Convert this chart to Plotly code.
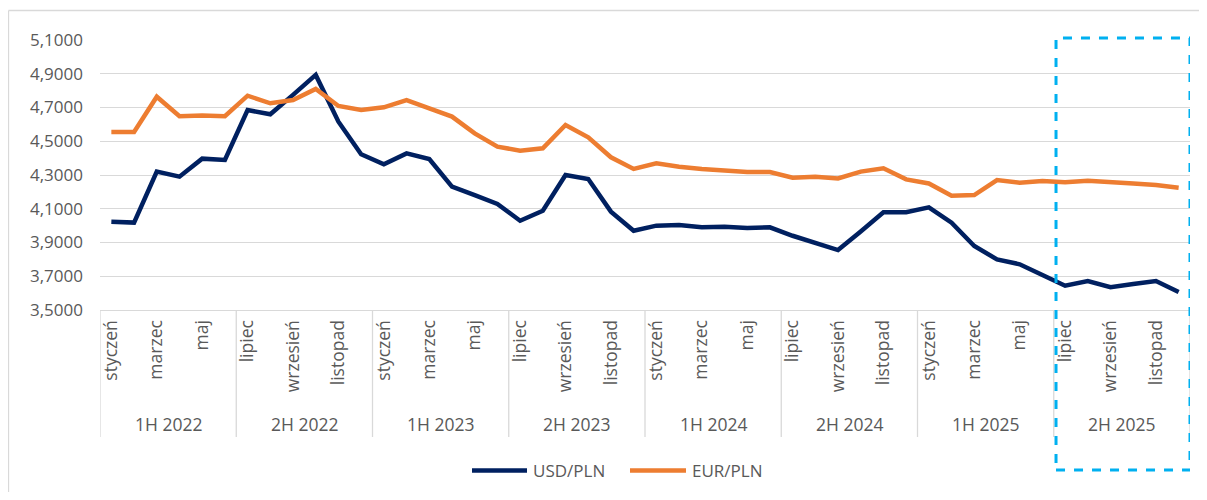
import plotly.graph_objects as go

months = ["styczeń", "luty", "marzec", "kwiecień", "maj", "czerwiec",
          "lipiec", "sierpień", "wrzesień", "październik", "listopad", "grudzień"]
years = [2022, 2023, 2024, 2025]
groups = ["1H 2022", "2H 2022", "1H 2023", "2H 2023",
          "1H 2024", "2H 2024", "1H 2025", "2H 2025"]

usd_pln = [4.023, 4.018, 4.320, 4.290, 4.397, 4.389, 4.685, 4.660, 4.775, 4.893, 4.616, 4.423,
           4.363, 4.428, 4.395, 4.231, 4.181, 4.128, 4.029, 4.088, 4.300, 4.276, 4.083, 3.970,
           4.000, 4.004, 3.990, 3.994, 3.986, 3.990, 3.940, 3.900, 3.855, 3.965, 4.079, 4.080,
           4.108, 4.017, 3.879, 3.800, 3.771, 3.707, 3.644, 3.672, 3.635, 3.654, 3.672, 3.607]
eur_pln = [4.555, 4.555, 4.764, 4.648, 4.652, 4.648, 4.770, 4.725, 4.744, 4.810, 4.709, 4.685,
           4.701, 4.744, 4.695, 4.646, 4.547, 4.468, 4.444, 4.458, 4.596, 4.523, 4.405, 4.336,
           4.369, 4.349, 4.336, 4.326, 4.318, 4.318, 4.284, 4.290, 4.280, 4.320, 4.340, 4.274,
           4.250, 4.177, 4.181, 4.270, 4.254, 4.264, 4.257, 4.266, 4.260, 4.250, 4.241, 4.225]
series_names = ["USD/PLN", "EUR/PLN"]
series_colors = ["#002060", "#ED7D31"]

categories = [f"{m} {y}" for y in years for m in months]
tick_vals = categories[::2]
tick_text = [c.split(" ")[0] for c in tick_vals]

FONT = "Open Sans, Segoe UI, sans-serif"
GREY = "#595959"
GRID = "#d9d9d9"

fig = go.Figure()
for name, vals, col in zip(series_names, [usd_pln, eur_pln], series_colors):
    fig.add_trace(go.Scatter(x=categories, y=vals, mode="lines", name=name,
                             line=dict(color=col, width=4.5), showlegend=False))

# page body adds an 8px margin on every side; work in screenshot pixels
OFF = 8
W, H = 1207 - 2 * OFF, 500 - 2 * OFF
ML, MT = 100 - OFF, 40 - OFF
MR = (1207 - OFF) - 1190
MB = (500 - OFF) - 310
pw = W - ML - MR
ph = H - MT - MB


def py(pix):
    return (310 - pix) / ph


def px(pix):
    return (pix - 100) / pw


shapes = []
n_half = len(groups)
for k in range(n_half + 1):
    xv = k * 6 - 0.5
    shapes.append(dict(type="line", xref="x", yref="paper", x0=xv, x1=xv,
                       y0=0, y1=py(437), line=dict(color=GRID, width=1.3)))
# outer frame (left and top edges visible in the crop)
shapes.append(dict(type="line", xref="paper", yref="paper", x0=px(8.5), x1=px(8.5),
                   y0=py(495), y1=py(10.5), line=dict(color=GRID, width=1.3), layer="below"))
shapes.append(dict(type="line", xref="paper", yref="paper", x0=px(8.5), x1=px(1200),
                   y0=py(10.5), y1=py(10.5), line=dict(color=GRID, width=1.3), layer="below"))
# highlighted last half-year
shapes.append(dict(type="rect", xref="x", yref="paper", x0=41.6, x1=47.5,
                   y0=py(470), y1=py(38), line=dict(color="#00B0F0", width=3, dash="dash")))

annotations = []
for k, g in enumerate(groups):
    annotations.append(dict(x=k * 6 + 2.5, xref="x", y=py(424), yref="paper",
                            text=g, showarrow=False, xanchor="center", yanchor="middle",
                            font=dict(family=FONT, size=17.5, color=GREY)))

leg = [(472, 527, 531), (630, 686, 690)]
for (a, b, t), name, col in zip(leg, series_names, series_colors):
    shapes.append(dict(type="line", xref="paper", yref="paper", x0=px(a), x1=px(b),
                       y0=py(470.5), y1=py(470.5), line=dict(color=col, width=4.5)))
    annotations.append(dict(x=px(t), xref="paper", y=py(470.5), yref="paper",
                            text=name, showarrow=False, xanchor="left", yanchor="middle",
                            font=dict(family=FONT, size=17, color=GREY)))

fig.update_layout(
    width=W, height=H,
    margin=dict(l=ML, r=MR, t=MT, b=MB),
    paper_bgcolor="white", plot_bgcolor="white",
    separators=", ",
    font=dict(family=FONT, size=17, color=GREY),
    shapes=shapes, annotations=annotations,
    xaxis=dict(type="category", categoryorder="array", categoryarray=categories,
               range=[-0.5, len(categories) - 0.5],
               tickmode="array", tickvals=tick_vals, ticktext=tick_text,
               tickangle=-90, showgrid=False, zeroline=False,
               showline=True, linecolor=GRID, linewidth=1.3,
               ticks="", tickfont=dict(family=FONT, size=17.5, color=GREY),
               ticklabelstandoff=2),
    yaxis=dict(range=[3.5, 5.1], tickmode="linear", tick0=3.5, dtick=0.2,
               tickformat=".4f", showgrid=True, gridcolor=GRID, gridwidth=1.3,
               zeroline=False, showline=False, ticks="",
               tickfont=dict(family=FONT, size=17, color=GREY),
               ticklabelstandoff=16),
)

fig.write_html("out.html")
